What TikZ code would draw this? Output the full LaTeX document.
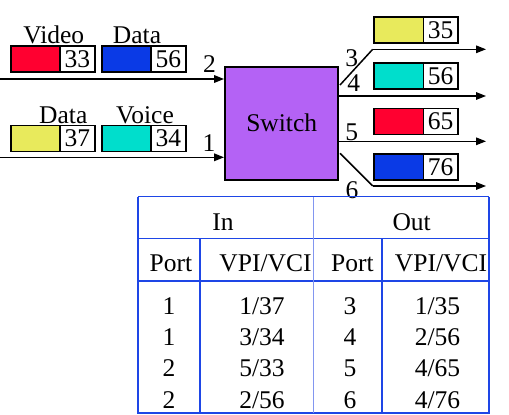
\documentclass[tikz,border=0pt]{standalone}
\usepackage{fontspec}
\setmainfont{Liberation Serif}
\usetikzlibrary{arrows.meta}
\definecolor{cyel}{RGB}{232,234,92}
\definecolor{ccyan}{RGB}{0,222,204}
\definecolor{cred}{RGB}{255,0,48}
\definecolor{cblue}{RGB}{10,58,230}
\definecolor{cpurple}{RGB}{180,98,245}
\definecolor{tblue}{RGB}{30,70,230}
\definecolor{tlight}{RGB}{130,150,240}
\tikzset{
  txt/.style={inner sep=0pt, font=\fontsize{25.5}{30}\selectfont},
  basetxt/.style={txt, anchor=base},
  cbox/.style={draw, line width=1.6pt, minimum width=49.3pt, minimum height=26pt, inner sep=0pt},
  nbox/.style={draw, line width=1.6pt, fill=white, minimum width=34.7pt, minimum height=26pt, inner sep=0pt, font=\fontsize{25.5}{30}\selectfont},
  arr/.style={line width=1.5pt, -{Triangle[length=10pt,width=7.5pt]}},
  ln/.style={line width=1.5pt},
  tthick/.style={draw=tblue, line width=1.8pt},
  tthin/.style={draw=tblue, line width=1pt},
  tlite/.style={draw=tlight, line width=1pt},
}
\newcommand\mkcell[5]{%
  \node[cbox, fill=#4] (#1c) at (#2+24.65,#3+13) {};
  \node[nbox] (#1n) at (#2+49.3+17.35,#3+13) {#5};
}
\begin{document}
\begin{tikzpicture}[x=1pt,y=-1pt]
\useasboundingbox (0,0) rectangle (509,415);
% input cells
\mkcell{va}{10.7}{45.7}{cred}{33}
\mkcell{da}{101.7}{45.7}{cblue}{56}
\mkcell{db}{10.7}{125.5}{cyel}{37}
\mkcell{vb}{101.7}{125.5}{ccyan}{34}
\node[basetxt] (lvideo) at (53.8,43.3) {Video};
\node[basetxt] (ldata1) at (137,43.3) {Data};
\node[basetxt] (ldata2) at (63.3,123) {Data};
\node[basetxt] (lvoice) at (145,123) {Voice};
% switch
\node[draw, line width=1.8pt, fill=cpurple, minimum width=112.7pt, minimum height=113.3pt, inner sep=0pt] (sw) at (281.35,123.35) {};
\node[basetxt] (lsw) at (281.7,131.7) {Switch};
% inputs
\coordinate (in2) at (0,79);
\coordinate (in1) at (0,157.3);
\draw[arr] (in2) -- (in2 -| sw.west);
\draw[arr] (in1) -- (in1 -| sw.west);
\node[basetxt] (p2) at (209.5,72.7) {2};
\node[basetxt] (p1) at (209,151.7) {1};
% outputs
\coordinate (o3a) at (340,85);
\coordinate (o3b) at (372.7,49.3);
\coordinate (o3c) at (486,49.3);
\draw[ln] (o3a) -- (o3b);
\draw[arr] (o3b) -- (o3c);
\coordinate (o4) at (486,96);
\draw[arr] (o4 -| sw.east) -- (o4);
\coordinate (o5) at (486,141.3);
\draw[arr] (o5 -| sw.east) -- (o5);
\coordinate (o6a) at (340,153.3);
\coordinate (o6b) at (372.7,186);
\coordinate (o6c) at (486,186);
\draw[ln] (o6a) -- (o6b);
\draw[arr] (o6b) -- (o6c);
\node[basetxt] (p3) at (351.7,66.7) {3};
\node[basetxt] (p4) at (353.7,91.7) {4};
\node[basetxt] (p5) at (351.7,140) {5};
\node[basetxt] (p6) at (352,198) {6};
% output cells
\mkcell{oa}{374}{16.7}{cyel}{35}
\mkcell{ob}{374}{62.7}{ccyan}{56}
\mkcell{oc}{374}{108.5}{cred}{65}
\mkcell{od}{374}{154}{cblue}{76}
% table
\draw[tthin] (138.3,196.7) -- (489.3,196.7);
\draw[tthin] (138.3,238.3) -- (489.3,238.3);
\draw[tthick] (138.3,280.7) -- (489.3,280.7);
\draw[tthick] (138.3,196.7) -- (138.3,412.7) -- (489.3,412.7) -- (489.3,196.7);
\draw[tthick] (200,238.3) -- (200,412.7);
\draw[tthick] (381.7,238.3) -- (381.7,412.7);
\draw[tlite] (313.3,196.7) -- (313.3,412.7);
\node[basetxt] (tin) at (223,230) {In};
\node[basetxt] (tout) at (411.7,230) {Out};
\node[basetxt] (h1) at (171,271.7) {Port};
\node[basetxt] (h2) at (265.5,271.7) {VPI/VCI};
\node[basetxt] (h3) at (352.5,271.7) {Port};
\node[basetxt] (h4) at (441,271.7) {VPI/VCI};
\foreach \y/\a/\b/\c/\d [count=\i] in {314/1/1\slash 37/3/1\slash 35, 345.4/1/3\slash 34/4/2\slash 56, 376.8/2/5\slash 33/5/4\slash 65, 408.2/2/2\slash 56/6/4\slash 76}{
  \node[basetxt] (r\i a) at (169,\y) {\a};
  \node[basetxt] (r\i b) at (262,\y) {\b};
  \node[basetxt] (r\i c) at (350,\y) {\c};
  \node[basetxt] (r\i d) at (437.5,\y) {\d};
}
\end{tikzpicture}
\end{document}
